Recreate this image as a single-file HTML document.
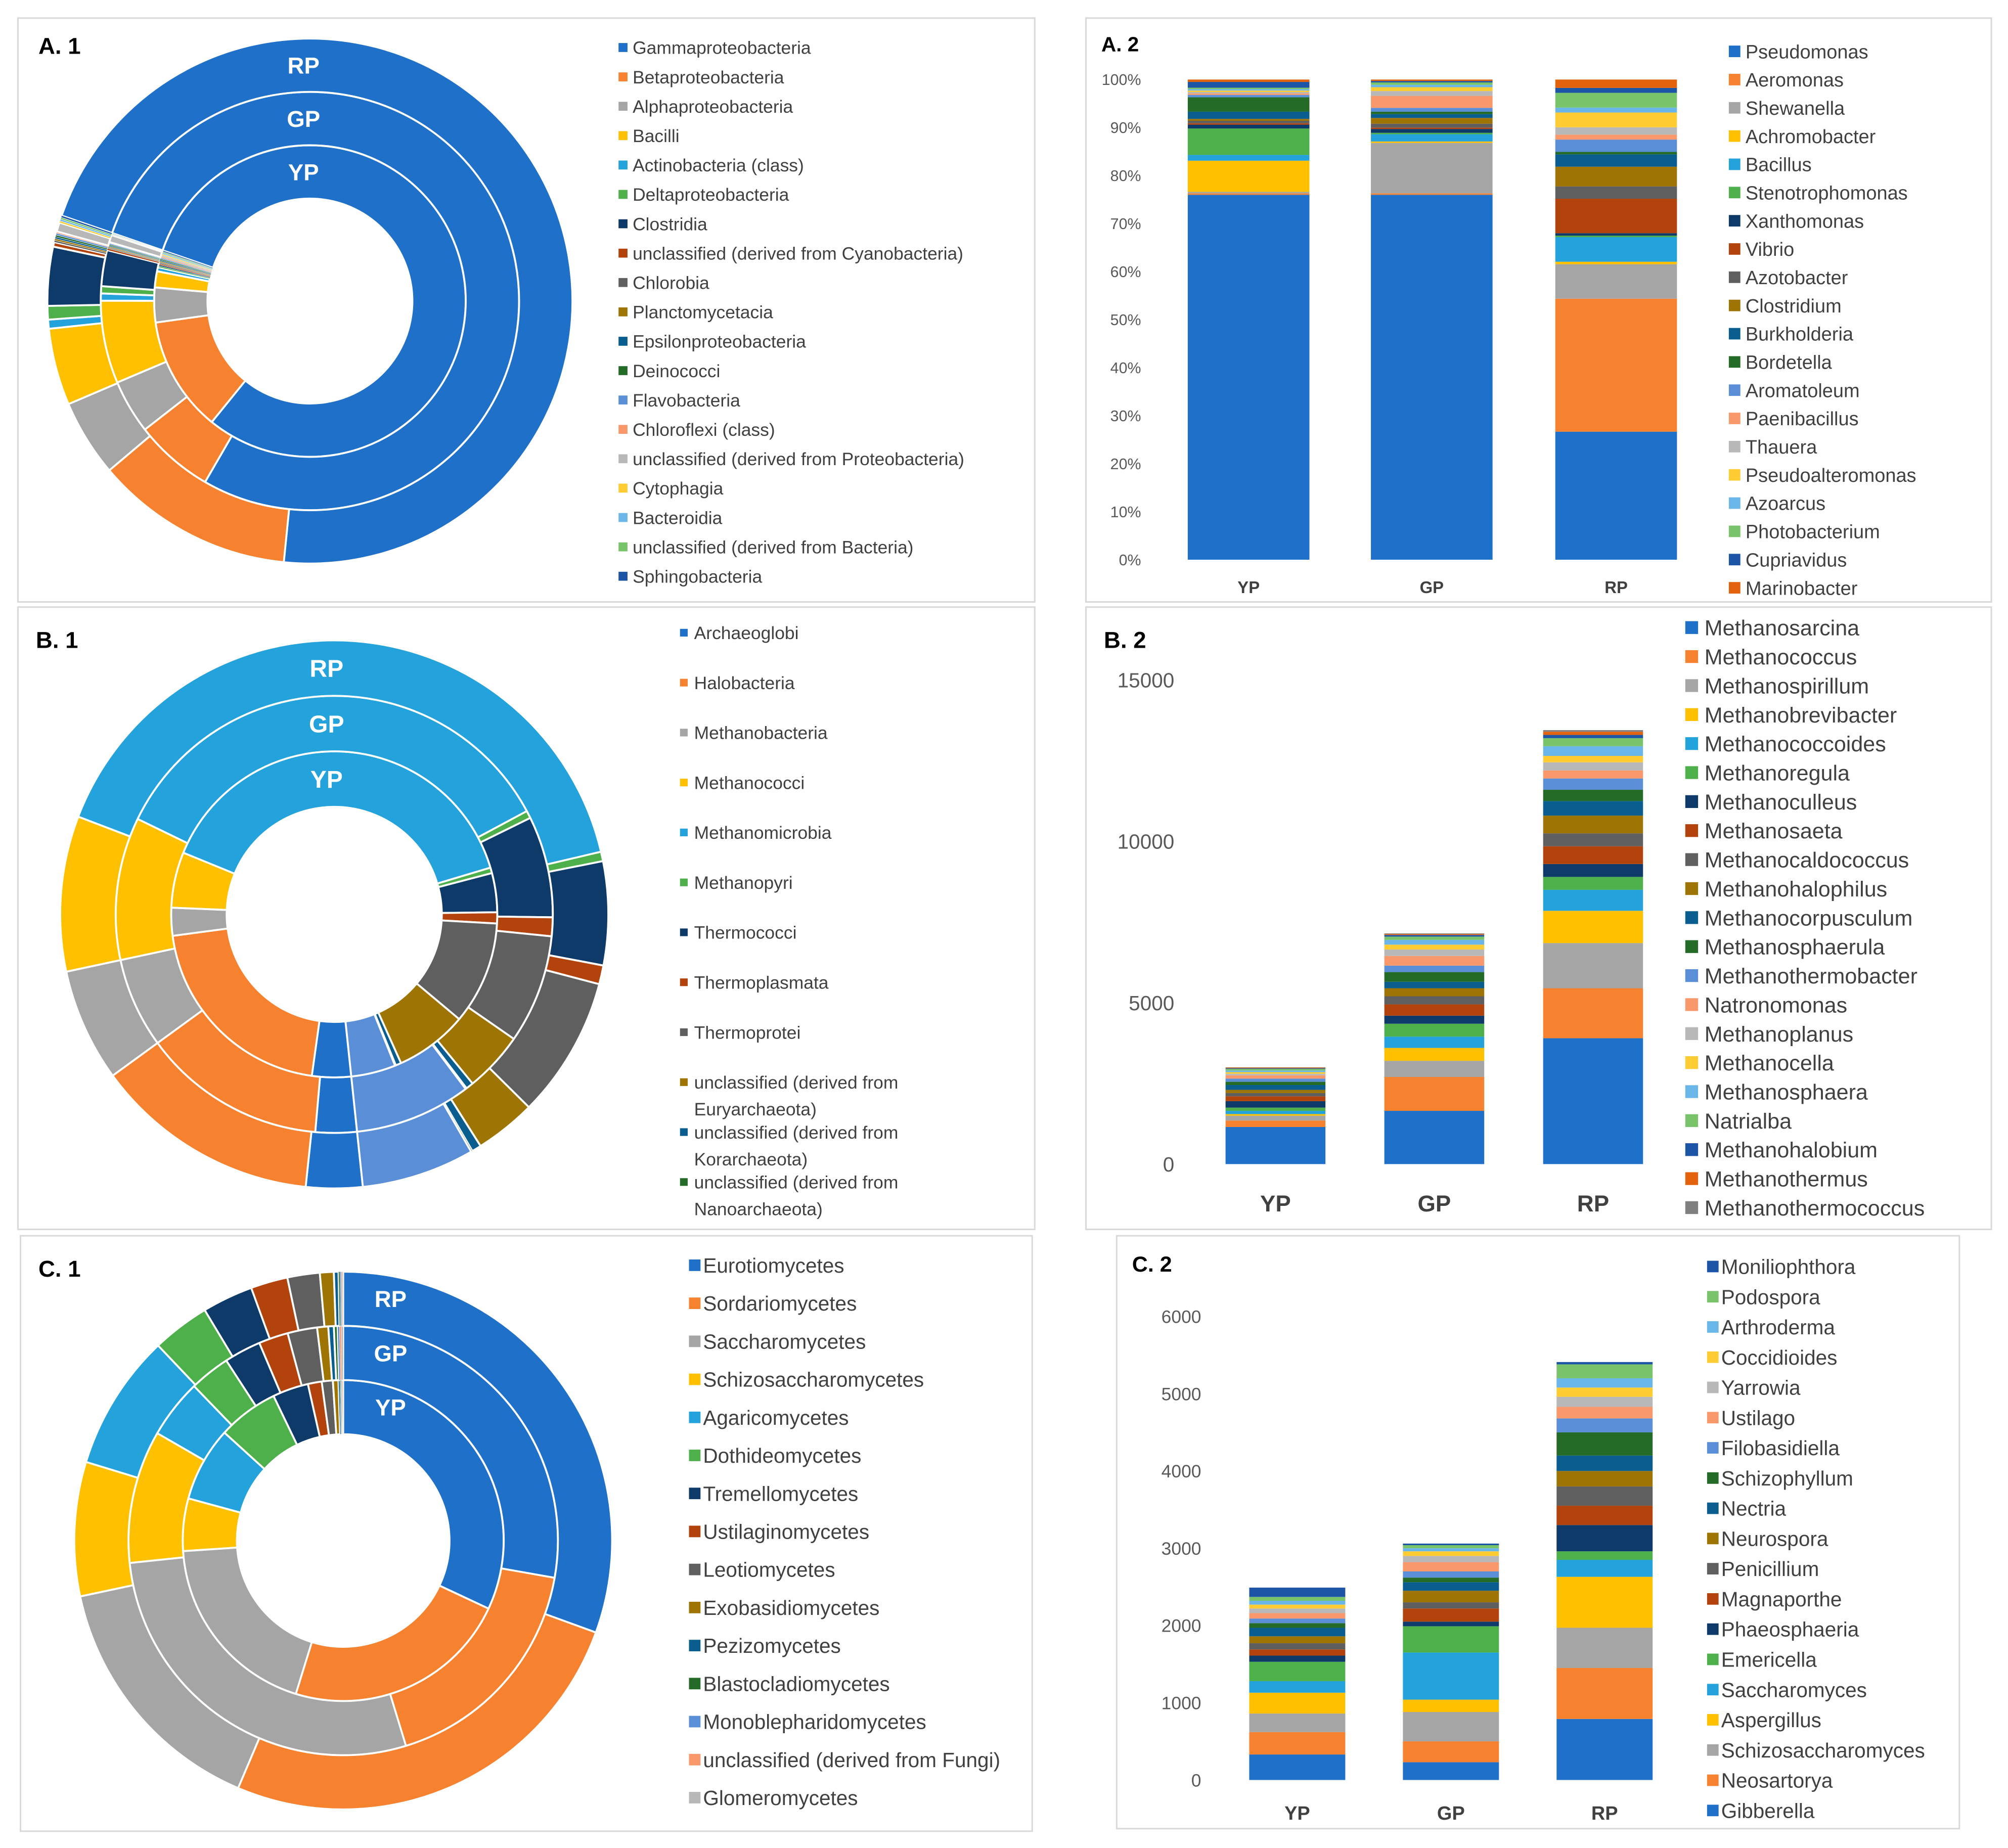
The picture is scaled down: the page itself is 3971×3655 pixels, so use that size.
<!DOCTYPE html>
<html><head><meta charset="utf-8"><style>
html,body{margin:0;padding:0;background:#fff}
svg{display:block;font-family:"Liberation Sans",Arial,sans-serif}
</style></head><body>
<svg id="s" width="3971" height="3655" viewBox="0 0 1568 1443" xmlns="http://www.w3.org/2000/svg">
<rect x="0" y="0" width="1568" height="1443" fill="#fff"/>
<g fill="none" stroke="#d9d9d9" stroke-width="1.2">
<rect x="14" y="14" width="794" height="456"/>
<rect x="848" y="14" width="707" height="456"/>
<rect x="14" y="474" width="794" height="486"/>
<rect x="848" y="474" width="707" height="486"/>
<rect x="16" y="965" width="790" height="465"/>
<rect x="872" y="965" width="658" height="463"/>
</g>
<g font-weight="bold" fill="#000" font-size="18">
<text x="30" y="42">A. 1</text>
<text x="860" y="40" font-size="16">A. 2</text>
<text x="28" y="506">B. 1</text>
<text x="862" y="506">B. 2</text>
<text x="30" y="997">C. 1</text>
<text x="884" y="993" font-size="17">C. 2</text>
</g>
<g id="layer"></g>
</svg>
<script>
const palette=["#1f70c8","#f6812e","#a5a5a5","#ffc000","#24a2dc","#4db04a","#0e3a6a","#b3430c","#5f5f5f","#9e7405","#095e8f","#236b26","#5a8fd8","#f9986a","#b8b8b8","#ffcc33","#6bb6e8","#79c46b","#1c54a6","#e2620e","#7f7f7f"];

// ---- A1 data (angular shares, degrees) ----
const a1Categories=["Gammaproteobacteria","Betaproteobacteria","Alphaproteobacteria","Bacilli","Actinobacteria (class)","Deltaproteobacteria","Clostridia","unclassified (derived from Cyanobacteria)","Chlorobia","Planctomycetacia","Epsilonproteobacteria","Deinococci","Flavobacteria","Chloroflexi (class)","unclassified (derived from Proteobacteria)","Cytophagia","Bacteroidia","unclassified (derived from Bacteria)","Sphingobacteria"];
const a1YP=[290,43,13,6,1.5,0.5,0.5,0.45,0.45,0.45,0.45,0.45,0.45,0.45,0.5,0.45,0.45,0.45,0.45];
const a1GP=[281,22,15,23,2,2,10,0.5,0.3,0.3,0.3,0.3,0.3,0.3,2,0.15,0.15,0.15,0.15];
const a1RP=[256,44,17,17,2,3,13,1,0.4,0.4,0.4,0.4,0.4,0.4,2,0.4,0.4,0.4,0.4];

// ---- A2 data (% of reads) ----
const a2Genera=["Pseudomonas","Aeromonas","Shewanella","Achromobacter","Bacillus","Stenotrophomonas","Xanthomonas","Vibrio","Azotobacter","Clostridium","Burkholderia","Bordetella","Aromatoleum","Paenibacillus","Thauera","Pseudoalteromonas","Azoarcus","Photobacterium","Cupriavidus","Marinobacter"];
const a2Samples=["YP","GP","RP"];
const a2YP=[76,0.3,0.3,6.5,1.2,5.5,0.8,0.3,0.5,0.4,1.5,3.0,0.5,0.3,0.3,0.3,0.3,0.3,1.2,0.5];
const a2GP=[76,0.3,10.5,0.3,1.5,0.3,0.8,0.3,0.8,1.2,0.8,0.5,0.8,2.5,1,0.8,0.5,0.5,0.3,0.3];
const a2RP=[26,27,7,0.5,5,0.3,0.5,7,2.5,4,2.5,0.5,2.5,1,1.5,3,1,3,1,1.7];
const a2Ticks=["0%","10%","20%","30%","40%","50%","60%","70%","80%","90%","100%"];

// ---- B1 data (degrees) ----
const b1Categories=["Archaeoglobi","Halobacteria","Methanobacteria","Methanococci","Methanomicrobia","Methanopyri","Thermococci","Thermoplasmata","Thermoprotei","unclassified (derived from|Euryarchaeota)","unclassified (derived from|Korarchaeota)","unclassified (derived from|Nanoarchaeota)","other"];
const b1YP=[14,75,10,20,142,2,14,4,37,26,2,0.3,16];
const b1GP=[11,49,24,38,126,2,27,5,29,16,2,0.3,31];
const b1RP=[12,48,24,33,146,2,22,4,30,13,2,0.3,24];

// ---- B2 data (counts) ----
const b2Genera=["Methanosarcina","Methanococcus","Methanospirillum","Methanobrevibacter","Methanococcoides","Methanoregula","Methanoculleus","Methanosaeta","Methanocaldococcus","Methanohalophilus","Methanocorpusculum","Methanosphaerula","Methanothermobacter","Natronomonas","Methanoplanus","Methanocella","Methanosphaera","Natrialba","Methanohalobium","Methanothermus","Methanothermococcus"];
const b2YP=[1150,200,150,50,100,100,200,150,100,100,150,100,100,100,50,50,50,50,20,20,10];
const b2GP=[1650,1050,500,400,350,400,250,350,250,250,200,300,200,300,200,150,150,100,50,30,20];
const b2RP=[3900,1550,1400,1000,650,400,400,550,400,550,450,350,350,250,250,200,300,250,100,100,50];
const b2Ticks=[0,5000,10000,15000];

// ---- C1 data (degrees) ----
const c1Categories=["Eurotiomycetes","Sordariomycetes","Saccharomycetes","Schizosaccharomycetes","Agaricomycetes","Dothideomycetes","Tremellomycetes","Ustilaginomycetes","Leotiomycetes","Exobasidiomycetes","Pezizomycetes","Blastocladiomycetes","Monoblepharidomycetes","unclassified (derived from Fungi)","Glomeromycetes"];
const c1YP=[115,82,69,19,27,22,13,5,4,2,0.5,0.3,0.3,0.3,0.3];
const c1GP=[100,63,101,36,16,11,10,8,8,3,1.5,1,0.5,0.5,0.5];
const c1RP=[110,93,55,29,29.5,12.5,11,8,7,3,1,0.3,0.3,0.2,0.2];

// ---- C2 data (counts), bottom to top ----
const c2Genera=["Gibberella","Neosartorya","Schizosaccharomyces","Aspergillus","Saccharomyces","Emericella","Phaeosphaeria","Magnaporthe","Penicillium","Neurospora","Nectria","Schizophyllum","Filobasidiella","Ustilago","Yarrowia","Coccidioides","Arthroderma","Podospora","Moniliophthora"];
const c2YP=[330,290,240,270,150,250,80,80,80,90,110,60,60,70,60,50,50,50,120];
const c2GP=[230,270,380,160,610,340,60,170,80,150,110,60,80,120,80,60,40,40,20];
const c2RP=[790,660,520,660,220,110,340,250,250,200,200,300,180,150,130,120,120,180,30];
const c2Ticks=[0,1000,2000,3000,4000,5000,6000];

const NS="http://www.w3.org/2000/svg";
const layer=document.getElementById('layer');
function mk(tag,attrs,parent){const e=document.createElementNS(NS,tag);for(const k in attrs)e.setAttribute(k,attrs[k]);(parent||layer).appendChild(e);return e;}

function pt(cx,cy,r,deg){const a=deg*Math.PI/180;return [cx+r*Math.sin(a),cy-r*Math.cos(a)];}
function arc(cx,cy,r0,r1,a0,a1){
  const large=(a1-a0)>180?1:0;
  const p1=pt(cx,cy,r1,a0),p2=pt(cx,cy,r1,a1),p3=pt(cx,cy,r0,a1),p4=pt(cx,cy,r0,a0);
  return `M${p1[0]},${p1[1]}A${r1},${r1} 0 ${large} 1 ${p2[0]},${p2[1]}L${p3[0]},${p3[1]}A${r0},${r0} 0 ${large} 0 ${p4[0]},${p4[1]}Z`;
}
function ring(g,cx,cy,r0,r1,vals,start,name){
  const tot=vals.reduce((a,b)=>a+b,0);let a=start;
  vals.forEach((v,i)=>{const span=v/tot*360;if(span<=0)return;
    const p=mk('path',{d:arc(cx,cy,r0,r1,a,a+span),fill:palette[i%palette.length],stroke:'#fff','stroke-width':span<1?0.3:1.5},g);
    
    
    a+=span;});
}
function donut(name,cx,cy,hole,R,rings,start,labelX,labelFs){
  const g=mk('g',{});
  
  
  const w=(R-hole)/3;
  rings.forEach((vals,k)=>ring(g,cx,cy,hole+k*w,hole+(k+1)*w,vals,start,name+['-yp','-gp','-rp'][k]));
  ['YP','GP','RP'].forEach((t,k)=>{
    const tx=mk('text',{x:labelX,y:cy-(hole+(k+0.5)*w)+labelFs*0.36,'text-anchor':'middle',fill:'#fff','font-weight':'bold','font-size':labelFs},g);
    
    
    tx.textContent=t;});
}
function legend(name,items,colorIdx,sx,tx,y0,step,fs,sq,lineGap){
  const g=mk('g',{});
  
  
  items.forEach((t,i)=>{
    const y=y0+i*step;
    const r=mk('rect',{x:sx,y:y-sq/2,width:sq,height:sq,fill:palette[colorIdx(i)]},g);
    
    
    t.split('|').forEach((line,j)=>{
      const e=mk('text',{x:tx,y:y+fs*0.36+j*(lineGap||0),'font-size':fs,fill:'#404040'},g);
      
      
      e.textContent=line;});
  });
}
function stacked(name,samples,series,centers,bw,y0px,yScale,normalize){
  const g=mk('g',{});
  
  
  series.forEach((vals,s)=>{
    const tot=vals.reduce((a,b)=>a+b,0);let acc=0;
    vals.forEach((v,i)=>{
      const vv=normalize?v/tot*100:v;
      const yTop=y0px-yScale(acc+vv),yBot=y0px-yScale(acc);
      const r=mk('rect',{x:centers[s]-bw/2,y:yTop,width:bw,height:Math.max(0,yBot-yTop),fill:palette[i%palette.length]},g);
      
      
      acc+=vv;});
  });
}
function axis(name,ticks,labels,x,y0px,yScale,fs){
  const g=mk('g',{});
  
  
  ticks.forEach((t,i)=>{
    const e=mk('text',{x:x,y:y0px-yScale(t)+fs*0.36,'text-anchor':'end','font-size':fs,fill:'#595959'},g);
    
    
    e.textContent=labels[i];});
}
function xlabels(name,samples,centers,y,fs){
  samples.forEach((t,i)=>{
    const e=mk('text',{x:centers[i],y:y,'text-anchor':'middle','font-size':fs,'font-weight':'bold',fill:'#404040'});
    
    
    e.textContent=t;});
}

// A1
donut('donut-a1',242,235,80,205,[a1YP,a1GP,a1RP],289,237,18);
legend('legend-a1',a1Categories,i=>i,483,494,37,22.94,14,7);
// A2
const a2Centers=[975,1118,1262];
const a2Scale=v=>v*3.75;
stacked('bars-a2',a2Samples,[a2YP,a2GP,a2RP],a2Centers,95,437,a2Scale,true);
axis('y-axis-a2',a2Ticks.map((t,i)=>i*10),a2Ticks,891,437,a2Scale,12);
xlabels('x-label-a2',a2Samples,a2Centers,463,13);
legend('legend-a2',a2Genera,i=>i,1350,1363,40,22.05,15,9);
// B1
donut('donut-b1',261,714,84,214,[b1YP,b1GP,b1RP],174,255,19);
legend('legend-b1',b1Categories.slice(0,12),i=>i,531,542,494,39,14,6,21);
// B2
const b2Centers=[996,1120,1244];
const b2Scale=v=>v*378/15000;
stacked('bars-b2',a2Samples,[b2YP,b2GP,b2RP],b2Centers,78,909,b2Scale,false);
axis('y-axis-b2',b2Ticks,b2Ticks.map(String),917,909,b2Scale,16);
xlabels('x-label-b2',a2Samples,b2Centers,946,18);
legend('legend-b2',b2Genera,i=>i,1316,1331,490,22.65,17,10);
// C1
donut('donut-c1',268,1203,83,210,[c1YP,c1GP,c1RP],0,305,18);
legend('legend-c1',c1Categories,i=>i,538,549,988,29.7,16,9);
// C2
const c2Centers=[1013,1133,1253];
const c2Scale=v=>v*362/6000;
stacked('bars-c2',a2Samples,[c2YP,c2GP,c2RP],c2Centers,75,1390,c2Scale,false);
axis('y-axis-c2',c2Ticks,c2Ticks.map(String),938,1390,c2Scale,14);
xlabels('x-label-c2',a2Samples,c2Centers,1421,15);
const c2Legend=c2Genera.slice().reverse();
legend('legend-c2',c2Legend,i=>c2Genera.length-1-i,1333,1344,989,23.6,16,9);
</script>
</body></html>
